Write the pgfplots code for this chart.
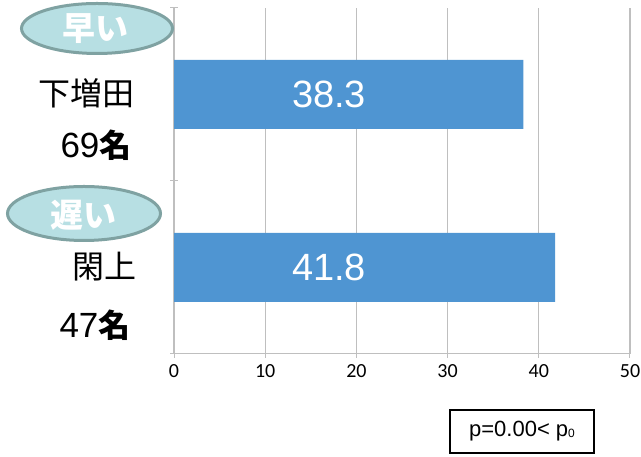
\documentclass[border=0pt]{standalone}
\usepackage{fontspec}
\usepackage{pgfplots}
\pgfplotsset{compat=1.18}
\setmainfont{Liberation Sans}
\newfontfamily\jp{Noto Sans CJK JP}
\newfontfamily\tickfont{Carlito}
\newcommand{\tf}{\tickfont\fontsize{20}{20}\selectfont}
\definecolor{barblue}{HTML}{4F95D2}
\definecolor{ellfill}{HTML}{B7DFE3}
\definecolor{elldraw}{HTML}{7FA2A2}
\definecolor{gridgray}{HTML}{BFBFBF}
\begin{document}
\begin{tikzpicture}[x=1pt,y=1pt]
\useasboundingbox (0,0) rectangle (641,457);
\begin{axis}[
  at={(174pt,103pt)}, anchor=south west,
  scale only axis, width=456pt, height=346pt,
  xmin=0, xmax=50, ymin=-0.5, ymax=1.5,
  xbar, bar width=69pt,
  axis x line*=bottom, axis y line*=left,
  axis line style={draw=gridgray, line width=1pt},
  xtick={0,10,20,30,40,50},
  xticklabels={{\tf 0},{\tf 10},{\tf 20},{\tf 30},{\tf 40},{\tf 50}},
  ytick={-0.5,0.5,1.5}, yticklabels={},
  tick align=center, major tick length=8pt,
  tick style={draw=gridgray, line width=1pt},
  xmajorgrids, grid style={draw=gridgray, line width=1.3pt},
  xticklabel style={yshift=-3pt},
  clip=false,
]
\addplot[fill=barblue, draw=none] coordinates {(41.8,0) (38.3,1)};
\node[text=white, font=\fontsize{38}{38}\selectfont] at (axis cs:17,1) {38.3};
\node[text=white, font=\fontsize{38}{38}\selectfont] at (axis cs:17,0) {41.8};
\end{axis}
% left labels
\node[inner sep=0, font=\jp\fontsize{32}{32}\selectfont] at (86,364) {下増田};
\node[inner sep=0] at (96,312) {\fontsize{35}{35}\selectfont 69{\jp\bfseries\fontsize{32}{32}\selectfont 名}};
\node[inner sep=0, font=\jp\fontsize{32}{32}\selectfont] at (104,190) {閑上};
\node[inner sep=0] at (95,132) {\fontsize{35}{35}\selectfont 47{\jp\bfseries\fontsize{32}{32}\selectfont 名}};
% ellipses
\draw[fill=ellfill, draw=elldraw, line width=3pt] (97,428.5) ellipse [x radius=75.5, y radius=25];
\node[text=white, font=\jp\bfseries\fontsize{33}{33}\selectfont] at (96,428) {早い};
\draw[fill=ellfill, draw=elldraw, line width=3pt] (84,243.5) ellipse [x radius=76.5, y radius=27];
\node[text=white, font=\jp\bfseries\fontsize{33}{33}\selectfont] at (83,242) {遅い};
% p box
\draw[line width=1.5pt] (450,4) rectangle (594,47);
\node[font=\fontsize{22}{22}\selectfont] at (522,25.5) {p=0.00< p\raisebox{-1pt}{\fontsize{12}{12}\selectfont 0}};
\end{tikzpicture}
\end{document}
